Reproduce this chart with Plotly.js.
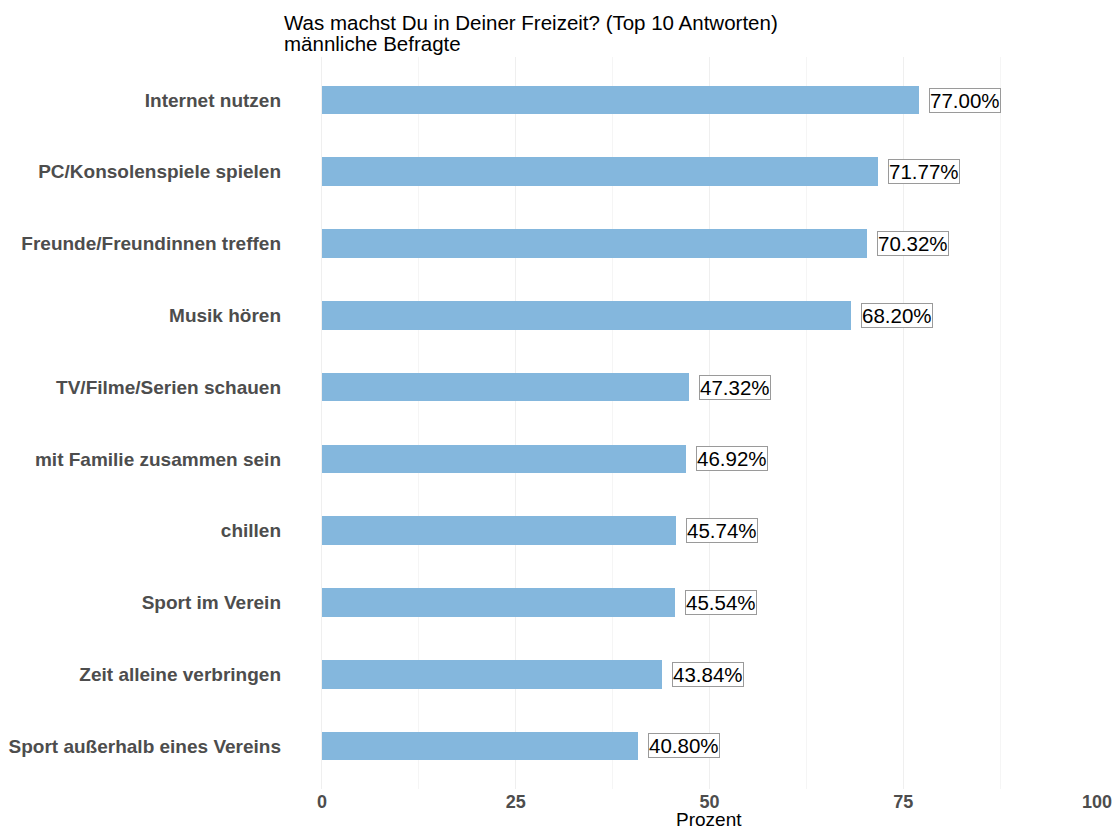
<!DOCTYPE html>
<html>
<head>
<meta charset="utf-8">
<script src="https://cdn.plot.ly/plotly-3.0.1.min.js"></script>
<style>body{margin:0;background:#fff;} #chart{width:1114px;height:829px;}</style>
</head>
<body>
<div id="chart"></div>
<script>
const categories = [
  "Internet nutzen",
  "PC/Konsolenspiele spielen",
  "Freunde/Freundinnen treffen",
  "Musik hören",
  "TV/Filme/Serien schauen",
  "mit Familie zusammen sein",
  "chillen",
  "Sport im Verein",
  "Zeit alleine verbringen",
  "Sport außerhalb eines Vereins"
];
const values = [77.00, 71.77, 70.32, 68.20, 47.32, 46.92, 45.74, 45.54, 43.84, 40.80];
const labels = values.map(v => v.toFixed(2) + "%");
const titleLines = ["Was machst Du in Deiner Freizeit? (Top 10 Antworten)", "männliche Befragte"];
const xTitle = "Prozent";
const xTicks = [0, 25, 50, 75, 100];

const FONT = "Liberation Sans, Arial, sans-serif";
const plotTop = 57, plotBottom = 40, H = 829;
const plotH = H - plotTop - plotBottom;
const pxToPaperY = py => 1 - (py - plotTop) / plotH;

const trace = {
  type: "bar",
  orientation: "h",
  x: values,
  y: categories,
  width: 0.4,
  marker: {color: "#84B7DD"},
  hoverinfo: "skip"
};

const annotations = values.map((v, i) => ({
  x: v, y: categories[i], xref: "x", yref: "y",
  text: labels[i], showarrow: false,
  xanchor: "left", yanchor: "middle", xshift: 10,
  font: {family: FONT, size: 20.5, color: "#000"},
  bgcolor: "#fff", bordercolor: "#9a9a9a", borderwidth: 1, borderpad: 0
}));

titleLines.forEach((t, i) => annotations.push({
  x: 0, xref: "paper", xanchor: "left", xshift: -2,
  y: pxToPaperY(22 + i * 22), yref: "paper", yanchor: "middle",
  align: "left", showarrow: false, text: t,
  font: {family: FONT, size: 20.5, color: "#000"}
}));

annotations.push({
  x: 50, xref: "x", xanchor: "center",
  y: pxToPaperY(819), yref: "paper", yanchor: "middle",
  showarrow: false, text: xTitle,
  font: {family: FONT, size: 19, color: "#000"}
});

const layout = {
  width: 1114, height: 829,
  paper_bgcolor: "#fff", plot_bgcolor: "#fff",
  margin: {l: 284, r: 17, t: plotTop, b: plotBottom},
  showlegend: false,
  bargap: 0,
  xaxis: {
    range: [-4.9, 100],
    tickvals: xTicks,
    ticktext: xTicks.map(String),
    showgrid: true, gridcolor: "#efefef", gridwidth: 1,
    minor: {tickvals: [12.5, 37.5, 62.5, 87.5], showgrid: true, gridcolor: "#f5f5f5", gridwidth: 1},
    zeroline: false, showline: false, ticks: "",
    tickfont: {family: FONT, size: 18, color: "#4d4d4d", weight: "bold"},
    automargin: false,
    fixedrange: true
  },
  yaxis: {
    type: "category",
    categoryorder: "array", categoryarray: categories,
    autorange: false, range: [9.6, -0.6],
    showgrid: false, zeroline: false, showline: false, ticks: "",
    ticklabelstandoff: 2,
    tickfont: {family: FONT, size: 19, color: "#4d4d4d", weight: "bold"},
    automargin: false,
    fixedrange: true
  },
  annotations: annotations
};

Plotly.newPlot("chart", [trace], layout, {displayModeBar: false, staticPlot: true});
</script>
</body>
</html>
